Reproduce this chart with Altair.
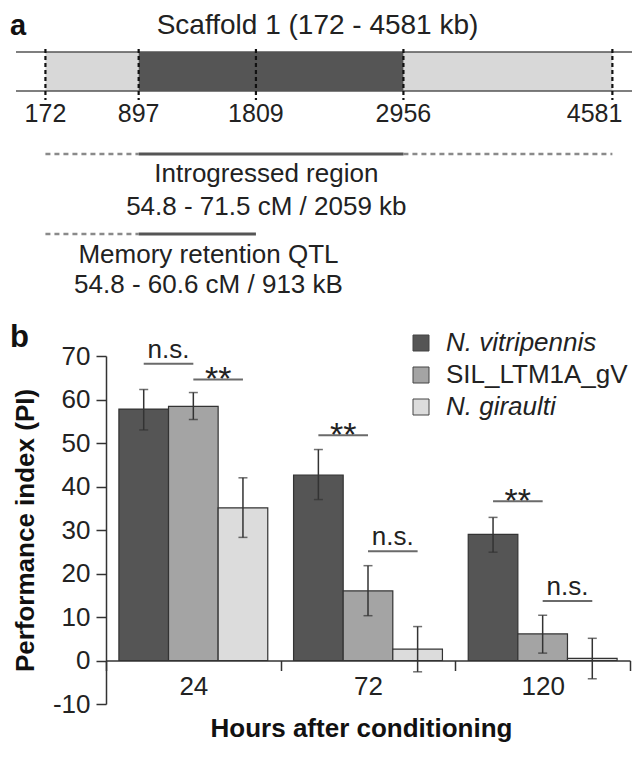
import altair as alt
import pandas as pd

# ---------------- panel b data ----------------
hours = ["24", "72", "120"]
series = ["N. vitripennis", "SIL_LTM1A_gV", "N. giraulti"]
pi_vitripennis = [57.8, 42.6, 29.0]
pi_sil = [58.4, 16.0, 6.1]
pi_giraulti = [35.1, 2.6, 0.5]
lo_vitripennis = [53.0, 37.0, 24.9]
lo_sil = [55.4, 10.3, 1.7]
lo_giraulti = [28.3, -2.6, -4.2]
hi_vitripennis = [62.3, 48.5, 32.9]
hi_sil = [61.6, 21.8, 10.4]
hi_giraulti = [42.0, 7.8, 5.1]
y_ticks = [-10, 0, 10, 20, 30, 40, 50, 60, 70]

sig_hours = ["24", "24", "72", "72", "120", "120"]
sig_left = ["N. vitripennis", "SIL_LTM1A_gV", "N. vitripennis", "SIL_LTM1A_gV", "N. vitripennis", "SIL_LTM1A_gV"]
sig_right = ["SIL_LTM1A_gV", "N. giraulti", "SIL_LTM1A_gV", "N. giraulti", "SIL_LTM1A_gV", "N. giraulti"]
sig_level = [68.2, 64.6, 51.8, 25.1, 36.6, 13.7]
sig_text = ["n.s.", "**", "**", "n.s.", "**", "n.s."]

# ---------------- panel a data ----------------
marker_kb = [172, 897, 1809, 2956, 4581]
flank_start = [172, 2956]
flank_end = [897, 4581]
introgressed_start = [897]
introgressed_end = [2956]
intro_dashed_start = [172, 2956]
intro_dashed_end = [897, 4581]
intro_solid_start = [897]
intro_solid_end = [2956]
qtl_dashed_start = [172]
qtl_dashed_end = [897]
qtl_solid_start = [897]
qtl_solid_end = [1809]
scaffold_title = "Scaffold 1 (172 - 4581 kb)"
intro_lines = ["Introgressed region", "54.8 - 71.5 cM / 2059 kb"]
qtl_lines = ["Memory retention QTL", "54.8 - 60.6 cM / 913 kB"]
panel_labels = ["a", "b"]

# ---------------- layout (not data) ----------------
W, H = 524, 348
UNIT = H / 80.0
GROUP = W / 3.0
PAD_OUTER = 0.26
STEP = GROUP / (3 + 2 * PAD_OUTER)
KB_DOMAIN = [643, 4718]
LINE_FROM_KB, LINE_TO_KB = -57, 4735
TITLE_KB, INTRO_KB, QTL_KB = 2288, 1890, 1440
FONT = "Liberation Sans"
TXT = "#222222"

# ---------------- panel b ----------------
bars_df = pd.DataFrame({
    "hours": hours * 3,
    "series": [series[0]] * 3 + [series[1]] * 3 + [series[2]] * 3,
    "pi": pi_vitripennis + pi_sil + pi_giraulti,
    "lo": lo_vitripennis + lo_sil + lo_giraulti,
    "hi": hi_vitripennis + hi_sil + hi_giraulti,
})
sig_df = pd.DataFrame({"hours": sig_hours, "series": sig_right, "level": sig_level, "label": sig_text})
sig_long = pd.DataFrame({
    "id": list(range(6)) * 2,
    "hours": sig_hours * 2,
    "series": sig_left + sig_right,
    "level": sig_level * 2,
})

X_AXIS = alt.Axis(title="Hours after conditioning", labelAngle=0, tickBand="extent", tickSize=10,
                  tickWidth=1.5, tickColor="#333", domainColor="#333", domainWidth=1.5,
                  labelFontSize=26, labelColor=TXT, labelPadding=3, titleFontSize=26,
                  titleFontWeight="bold", titleColor="#111", titlePadding=16, titleX=W / 2 - 7,
                  offset=-10 * UNIT, grid=False)
X_B = alt.X("hours:N", sort=hours, scale=alt.Scale(domain=hours, paddingInner=0, paddingOuter=0), axis=X_AXIS)
XOFF = alt.XOffset("series:N", sort=series, scale=alt.Scale(domain=series, paddingInner=0, paddingOuter=PAD_OUTER))
Y_AXIS = alt.Axis(values=y_ticks, title="Performance index (PI)", tickSize=10, tickWidth=1.5,
                  tickColor="#333", domainColor="#333", domainWidth=1.5, labelFontSize=26,
                  labelColor=TXT, labelPadding=6, labelExpr="'' + datum.value",
                  titleFontSize=26, titleFontWeight="bold",
                  titleColor="#111", titlePadding=14, grid=False)


def YQ(field):
    return alt.Y(field + ":Q", scale=alt.Scale(domain=[-10, 70], nice=False, zero=False), axis=Y_AXIS,
                 title="Performance index (PI)")


COLOR = alt.Color("series:N", sort=series,
                  scale=alt.Scale(domain=series, range=["#555555", "#a4a4a4", "#dcdcdc"]),
                  legend=alt.Legend(orient="none", legendX=302, legendY=-26, title=None,
                                    symbolType="square", symbolSize=256, symbolStrokeColor="#444",
                                    symbolStrokeWidth=1, labelFontSize=26, labelOffset=12,
                                    rowPadding=6, labelLimit=400, labelColor=TXT, padding=0,
                                    labelFontStyle={"expr": "datum.label == 'SIL_LTM1A_gV' ? 'normal' : 'italic'"}))

bars = alt.Chart(bars_df).mark_bar(stroke="#333", strokeWidth=1.2).encode(
    x=X_B, xOffset=XOFF, y=YQ("pi"), color=COLOR)
err = alt.Chart(bars_df).mark_rule(color="#333", strokeWidth=1.5).encode(
    x=X_B, xOffset=XOFF, y=YQ("lo"), y2="hi:Q")
cap_lo = alt.Chart(bars_df).mark_tick(orient="horizontal", size=9, thickness=1.5, color="#333").encode(
    x=X_B, xOffset=XOFF, y=YQ("lo"))
cap_hi = alt.Chart(bars_df).mark_tick(orient="horizontal", size=9, thickness=1.5, color="#333").encode(
    x=X_B, xOffset=XOFF, y=YQ("hi"))
sig_lines = alt.Chart(sig_long).mark_line(color="#6a6a6a", strokeWidth=2).encode(
    x=X_B, xOffset=XOFF, y=YQ("level"), detail="id:N")
sig_ns = alt.Chart(sig_df).transform_filter(alt.datum.label == "n.s.").mark_text(
    fontSize=26, dx=-STEP / 2, dy=-6, baseline="alphabetic", color=TXT).encode(
    x=X_B, xOffset=XOFF, y=YQ("level"), text="label:N")
sig_star = alt.Chart(sig_df).transform_filter(alt.datum.label == "**").mark_text(
    fontSize=34, dx=-STEP / 2, dy=11, baseline="alphabetic", color=TXT).encode(
    x=X_B, xOffset=XOFF, y=YQ("level"), text="label:N")
label_b = alt.Chart(pd.DataFrame({"t": [panel_labels[1]]})).mark_text(
    fontSize=31, fontWeight="bold", align="left", baseline="alphabetic", color="#111").encode(
    x=alt.value(-96), y=alt.value(-9), text="t:N")

panel_b = alt.layer(bars, err, cap_lo, cap_hi, sig_lines, sig_ns, sig_star, label_b)

# ---------------- panel a ----------------
KB_SCALE = alt.Scale(domain=KB_DOMAIN, nice=False, zero=False)


def XA(field):
    return alt.X(field + ":Q", scale=KB_SCALE, axis=None)


def seg_chart(starts, ends):
    return alt.Chart(pd.DataFrame({"kb": starts, "kb_end": ends}))


line_df = pd.DataFrame({"kb": [LINE_FROM_KB], "kb_end": [LINE_TO_KB]})
markers_df = pd.DataFrame({"kb": marker_kb, "label": [str(v) for v in marker_kb]})
inner_labels_df = markers_df.iloc[:-1]
last_label_df = markers_df.iloc[-1:]

flank = seg_chart(flank_start, flank_end).mark_rect(color="#d8d8d8").encode(
    x=XA("kb"), x2="kb_end:Q", y=alt.value(-304), y2=alt.value(-265))
intro_rect = seg_chart(introgressed_start, introgressed_end).mark_rect(color="#555555").encode(
    x=XA("kb"), x2="kb_end:Q", y=alt.value(-304), y2=alt.value(-265))
edge_top = alt.Chart(line_df).mark_rule(color="#555", strokeWidth=1.5).encode(
    x=XA("kb"), x2="kb_end:Q", y=alt.value(-304))
edge_bot = alt.Chart(line_df).mark_rule(color="#555", strokeWidth=1.5).encode(
    x=XA("kb"), x2="kb_end:Q", y=alt.value(-265))
dashes = alt.Chart(markers_df).mark_rule(color="#111", strokeWidth=2.2, strokeDash=[4, 3]).encode(
    x=XA("kb"), y=alt.value(-307), y2=alt.value(-256))
kb_labels = alt.Chart(inner_labels_df).mark_text(fontSize=25, baseline="alphabetic", color=TXT).encode(
    x=XA("kb"), y=alt.value(-234), text="label:N")
kb_label_last = alt.Chart(last_label_df).mark_text(
    fontSize=25, baseline="alphabetic", align="right", dx=10, color=TXT).encode(
    x=XA("kb"), y=alt.value(-234), text="label:N")
title_a = alt.Chart(pd.DataFrame({"kb": [TITLE_KB], "t": [scaffold_title]})).mark_text(
    fontSize=28, baseline="alphabetic", color=TXT).encode(x=XA("kb"), y=alt.value(-322), text="t:N")
label_a = alt.Chart(pd.DataFrame({"t": [panel_labels[0]]})).mark_text(
    fontSize=29, fontWeight="bold", align="left", baseline="alphabetic", color="#111").encode(
    x=alt.value(-96), y=alt.value(-321), text="t:N")

intro_dash = seg_chart(intro_dashed_start, intro_dashed_end).mark_rule(
    color="#8a8a8a", strokeWidth=2.5, strokeDash=[5, 4]).encode(x=XA("kb"), x2="kb_end:Q", y=alt.value(-202))
intro_solid = seg_chart(intro_solid_start, intro_solid_end).mark_rule(
    color="#555", strokeWidth=3).encode(x=XA("kb"), x2="kb_end:Q", y=alt.value(-202))
qtl_dash = seg_chart(qtl_dashed_start, qtl_dashed_end).mark_rule(
    color="#8a8a8a", strokeWidth=2.5, strokeDash=[5, 4]).encode(x=XA("kb"), x2="kb_end:Q", y=alt.value(-122))
qtl_solid = seg_chart(qtl_solid_start, qtl_solid_end).mark_rule(
    color="#555", strokeWidth=3).encode(x=XA("kb"), x2="kb_end:Q", y=alt.value(-122))


def text_line(kb, text, y, size=26):
    return alt.Chart(pd.DataFrame({"kb": [kb], "t": [text]})).mark_text(
        fontSize=size, baseline="alphabetic", color=TXT).encode(x=XA("kb"), y=alt.value(y), text="t:N")


intro_t1 = text_line(INTRO_KB, intro_lines[0], -174)
intro_t2 = text_line(INTRO_KB, intro_lines[1], -141)
qtl_t1 = text_line(QTL_KB, qtl_lines[0], -93)
qtl_t2 = text_line(QTL_KB, qtl_lines[1], -63)

panel_a = alt.layer(flank, intro_rect, edge_top, edge_bot, dashes, kb_labels, kb_label_last, title_a,
                    label_a, intro_dash, intro_solid, qtl_dash, qtl_solid, intro_t1, intro_t2, qtl_t1, qtl_t2)

chart = alt.layer(panel_b, panel_a).resolve_scale(x="independent").properties(
    width=W, height=H,
    autosize=alt.AutoSizeParams(type="none"),
    padding={"left": 98, "top": 348, "right": 2, "bottom": 40},
).configure(font=FONT).configure_view(stroke=None)

chart.save("out.html", embed_options={"renderer": "svg", "actions": False})
